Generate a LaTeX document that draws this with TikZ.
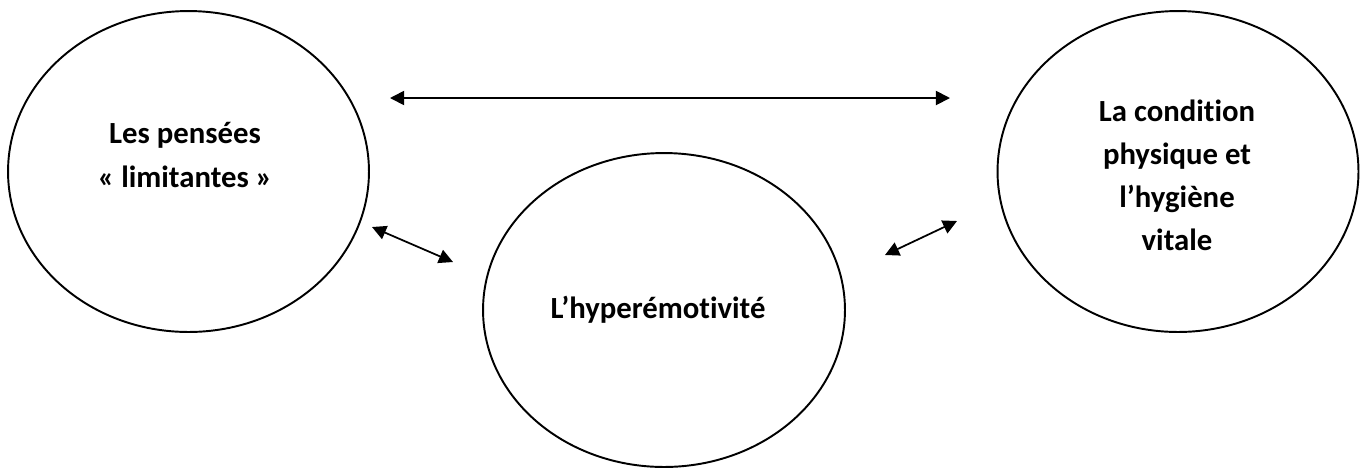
\documentclass[tikz,border=0pt]{standalone}
\usepackage{fontspec}
\setmainfont[Ligatures=NoCommon]{Carlito}
\usetikzlibrary{shapes.geometric, arrows.meta}

\tikzset{
    bubble/.style={draw, ellipse, line width=1.1pt, inner sep=0pt,
        minimum width=7.22cm, minimum height=6.42cm},
    bubbletext/.style={align=center, font=\bfseries\fontsize{17.5}{24.5}\selectfont},
    link/.style={{Triangle[length=8pt, width=8pt]}-{Triangle[length=8pt, width=8pt]}, line width=1pt}
}

\begin{document}
\begin{tikzpicture}[x=0.02cm, y=-0.02cm]
        \useasboundingbox (0,0) rectangle (1361,468);

        \node[bubble] (pens) at (188.5,171.5) {};
        \node[bubbletext] (pens-txt) at (185,155) {Les pensées\\« limitantes »};

        \node[bubble, minimum width=7.24cm, minimum height=6.28cm] (hyper) at (664,310) {};
        \node[bubbletext] (hyper-txt) at (658,310) {L’hyperémotivité};

        \node[bubble] (cond) at (1178,171.5) {};
        \node[bubbletext] (cond-txt) at (1177,175) {La condition\\physique et\\l’hygiène\\vitale};

        \coordinate (top-l) at (390,98);
        \coordinate (top-r) at (950,98);
        \coordinate (left-a) at (372,227);
        \coordinate (left-b) at (453,262);
        \coordinate (right-a) at (885,255);
        \coordinate (right-b) at (957,221);

        \draw[link] (top-l) -- (top-r);
        \draw[link] (left-a) -- (left-b);
        \draw[link] (right-a) -- (right-b);
    \end{tikzpicture}
\end{document}
